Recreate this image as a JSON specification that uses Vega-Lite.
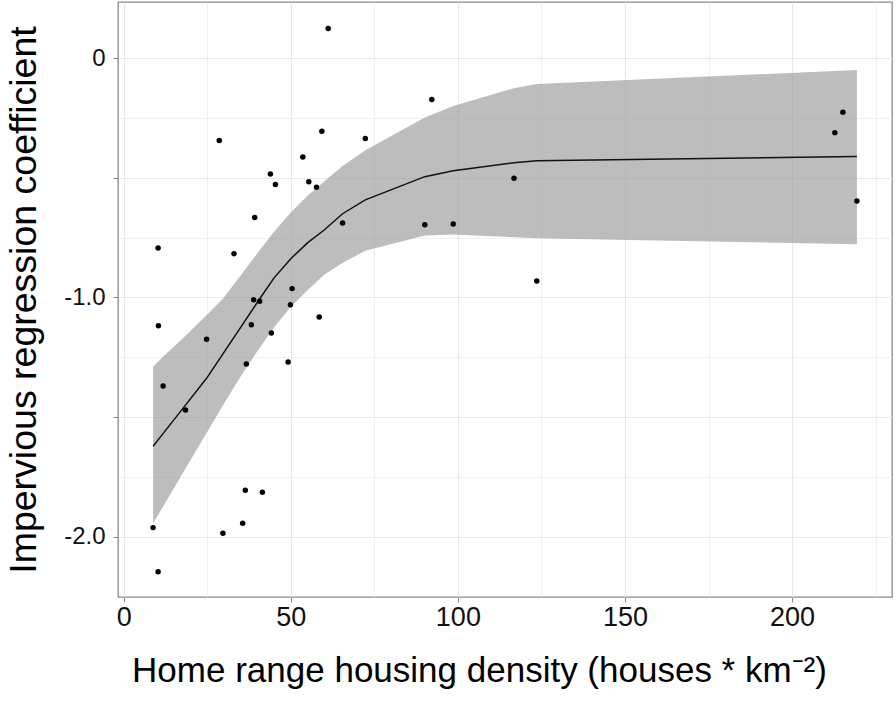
{
  "$schema": "https://vega.github.io/schema/vega-lite/v6.json",
  "width": 774,
  "height": 595,
  "autosize": {"type": "none"},
  "padding": {"left": 118, "top": 2, "right": 4, "bottom": 107},
  "background": "white",
  "config": {
    "view": {"stroke": "#8a8a8a", "strokeWidth": 1.3},
    "axis": {
      "domain": false,
      "gridColor": "#e8e8e8",
      "tickColor": "#8a8a8a",
      "tickSize": 5,
      "labelFont": "Liberation Sans",
      "titleFont": "Liberation Sans",
      "labelColor": "#111111",
      "titleColor": "#000000",
      "titleFontWeight": "normal"
    }
  },
  "datasets": {
    "pts": [
      {"x": 8.8, "y": -1.962}, {"x": 10.3, "y": -2.146}, {"x": 10.3, "y": -0.793}, {"x": 10.4, "y": -1.118},
      {"x": 11.8, "y": -1.370}, {"x": 18.5, "y": -1.470}, {"x": 24.8, "y": -1.175}, {"x": 28.6, "y": -0.344},
      {"x": 29.7, "y": -1.986}, {"x": 33.0, "y": -0.817}, {"x": 35.6, "y": -1.944}, {"x": 36.4, "y": -1.806},
      {"x": 36.7, "y": -1.278}, {"x": 38.2, "y": -1.114}, {"x": 38.9, "y": -1.010}, {"x": 39.2, "y": -0.666},
      {"x": 40.7, "y": -1.016}, {"x": 41.5, "y": -1.814}, {"x": 43.9, "y": -0.484}, {"x": 44.2, "y": -1.149},
      {"x": 45.4, "y": -0.528}, {"x": 49.2, "y": -1.270}, {"x": 49.9, "y": -1.030}, {"x": 50.4, "y": -0.963},
      {"x": 53.6, "y": -0.413}, {"x": 55.4, "y": -0.516}, {"x": 57.7, "y": -0.539}, {"x": 58.5, "y": -1.082},
      {"x": 59.3, "y": -0.305}, {"x": 61.2, "y": 0.124}, {"x": 65.5, "y": -0.689}, {"x": 72.3, "y": -0.336},
      {"x": 90.1, "y": -0.696}, {"x": 92.2, "y": -0.173}, {"x": 98.6, "y": -0.693}, {"x": 116.8, "y": -0.502},
      {"x": 123.6, "y": -0.931}, {"x": 212.8, "y": -0.311}, {"x": 215.2, "y": -0.226}, {"x": 219.4, "y": -0.597}
    ],
    "fit": [
      {"x": 8.8, "fit": -1.622, "lo": -1.945, "up": -1.290},
      {"x": 12, "fit": -1.565, "lo": -1.868, "up": -1.245},
      {"x": 18.5, "fit": -1.450, "lo": -1.715, "up": -1.160},
      {"x": 24.8, "fit": -1.338, "lo": -1.567, "up": -1.074},
      {"x": 29.7, "fit": -1.236, "lo": -1.450, "up": -1.005},
      {"x": 35, "fit": -1.125, "lo": -1.330, "up": -0.908},
      {"x": 40, "fit": -1.020, "lo": -1.225, "up": -0.815},
      {"x": 45, "fit": -0.918, "lo": -1.125, "up": -0.725},
      {"x": 50, "fit": -0.838, "lo": -1.040, "up": -0.645},
      {"x": 55, "fit": -0.772, "lo": -0.970, "up": -0.575},
      {"x": 60, "fit": -0.718, "lo": -0.905, "up": -0.515},
      {"x": 65.5, "fit": -0.650, "lo": -0.855, "up": -0.450},
      {"x": 72.3, "fit": -0.592, "lo": -0.805, "up": -0.385},
      {"x": 90.1, "fit": -0.495, "lo": -0.741, "up": -0.248},
      {"x": 98.6, "fit": -0.470, "lo": -0.737, "up": -0.200},
      {"x": 116.8, "fit": -0.437, "lo": -0.748, "up": -0.125},
      {"x": 123.6, "fit": -0.429, "lo": -0.753, "up": -0.108},
      {"x": 219.4, "fit": -0.411, "lo": -0.778, "up": -0.049}
    ]
  },
  "layer": [
    {
      "data": {"name": "fit"},
      "mark": {"type": "area", "fill": "#999999", "fillOpacity": 0.65, "stroke": null},
      "encoding": {
        "x": {
          "field": "x", "type": "quantitative",
          "scale": {"domain": [-1.7, 229.9], "nice": false, "zero": false},
          "axis": {
            "values": [0, 25, 50, 75, 100, 125, 150, 175, 200, 225],
            "labelExpr": "datum.value % 50 == 0 ? datum.label : ''",
            "tickOpacity": {"condition": {"test": "datum.value % 50 != 0", "value": 0}, "value": 1},
            "gridWidth": {"condition": {"test": "datum.value % 50 != 0", "value": 0.6}, "value": 1.1},
            "labelFontSize": 27,
            "labelPadding": 2,
            "title": "Home range housing density (houses * km⁻²)",
            "titleFontSize": 35,
            "titlePadding": 23,
            "titleX": 361
          }
        },
        "y": {
          "field": "lo", "type": "quantitative",
          "scale": {"domain": [-2.252, 0.235], "nice": false, "zero": false},
          "axis": {
            "values": [0, -0.25, -0.5, -0.75, -1, -1.25, -1.5, -1.75, -2],
            "labelExpr": "datum.value == 0 ? '0' : (datum.value == -1 ? '-1.0' : (datum.value == -2 ? '-2.0' : ''))",
            "tickOpacity": {"condition": {"test": "datum.value % 0.5 != 0", "value": 0}, "value": 1},
            "gridWidth": {"condition": {"test": "datum.value % 0.5 != 0", "value": 0.6}, "value": 1.1},
            "labelFontSize": 24,
            "labelPadding": 8,
            "title": "Impervious regression coefficient",
            "titleFontSize": 37.5,
            "titlePadding": 20
          }
        },
        "y2": {"field": "up"}
      }
    },
    {
      "data": {"name": "fit"},
      "mark": {"type": "line", "color": "#111111", "strokeWidth": 1.5},
      "encoding": {
        "x": {"field": "x", "type": "quantitative"},
        "y": {"field": "fit", "type": "quantitative"}
      }
    },
    {
      "mark": {"type": "rule", "color": "#333333", "strokeWidth": 1.1, "strokeDash": [5, 4]},
      "encoding": {"y": {"datum": 0, "type": "quantitative"}}
    },
    {
      "data": {"name": "pts"},
      "mark": {"type": "circle", "color": "#000000", "opacity": 1, "size": 30},
      "encoding": {
        "x": {"field": "x", "type": "quantitative"},
        "y": {"field": "y", "type": "quantitative"}
      }
    }
  ]
}
